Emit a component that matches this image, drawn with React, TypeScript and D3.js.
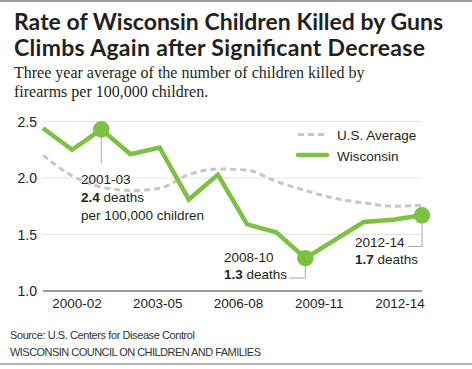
import React, { useEffect, useRef } from 'react';
import * as d3 from 'd3';

const periods = ['1999-01', '2000-02', '2001-03', '2002-04', '2003-05', '2004-06', '2005-07',
  '2006-08', '2007-09', '2008-10', '2009-11', '2010-12', '2011-13', '2012-14'];
const wisconsin = [2.44, 2.25, 2.43, 2.21, 2.27, 1.81, 2.03, 1.59, 1.52, 1.29, 1.45, 1.61, 1.63, 1.67];
const usAverage = [2.2, 2.02, 1.92, 1.89, 1.91, 2.03, 2.08, 2.07, 1.97, 1.89, 1.82, 1.78, 1.75, 1.76];
const xTickLabels = ['2000-02', '2003-05', '2006-08', '2009-11', '2012-14'];
const yTicks = [1.0, 1.5, 2.0, 2.5];

const GREEN = '#7dc143';
const GRAY_DASH = '#c6c6c6';
const FONT = '"Liberation Sans", Arial, sans-serif';

const App: React.FC = () => {
  const svgRef = useRef<SVGSVGElement>(null);

  useEffect(() => {
    if (!svgRef.current) return;
    const width = 472;
    const svg = d3.select(svgRef.current);
    svg.selectAll('*').remove();

    const x = d3.scalePoint<string>().domain(periods).range([43, 422]);
    const y = d3.scaleLinear().domain([1, 2.5]).range([291, 121.5]);
    const xTick = d3.scalePoint<string>().domain(xTickLabels).range([77, 400]);

    // frame lines
    svg.append('line').attr('x1', 0).attr('x2', width).attr('y1', 1).attr('y2', 1)
      .attr('stroke', '#9a9a9a').attr('stroke-width', 2);
    svg.append('line').attr('x1', 0).attr('x2', width).attr('y1', 364).attr('y2', 364)
      .attr('stroke', '#9a9a9a').attr('stroke-width', 1.5);

    // title
    const title = svg.append('text').attr('font-family', 'Lato, sans-serif')
      .attr('font-weight', 700).attr('font-size', 23).attr('fill', '#231f20');
    title.append('tspan').attr('x', 14).attr('y', 30).attr('textLength', 429).text('Rate of Wisconsin Children Killed by Guns');
    title.append('tspan').attr('x', 14).attr('y', 56).attr('textLength', 411).text('Climbs Again after Significant Decrease');

    const sub = svg.append('text').attr('font-family', '"Liberation Serif", "Times New Roman", serif')
      .attr('font-size', 16).attr('fill', '#231f20');
    sub.append('tspan').attr('x', 14).attr('y', 78).text('Three year average of the number of children killed by');
    sub.append('tspan').attr('x', 14).attr('y', 97).text('firearms per 100,000 children.');

    // grid
    const grid = svg.append('g');
    grid.selectAll('line').data(yTicks.filter(d => d > 1)).enter().append('line')
      .attr('x1', x(periods[0])!).attr('x2', x(periods[periods.length - 1])!)
      .attr('y1', d => y(d)).attr('y2', d => y(d))
      .attr('stroke', '#e4e4e4').attr('stroke-width', 1);
    svg.append('line').attr('x1', x(periods[0])!).attr('x2', x(periods[periods.length - 1])!)
      .attr('y1', y(1)).attr('y2', y(1)).attr('stroke', '#9a9a9a').attr('stroke-width', 2);

    // y labels
    svg.append('g').selectAll('text').data(yTicks).enter().append('text')
      .attr('x', 37).attr('y', d => y(d) + 5).attr('text-anchor', 'end')
      .attr('font-family', FONT).attr('font-size', 14).attr('fill', '#231f20')
      .text(d => d3.format('.1f')(d));

    // x labels
    svg.append('g').selectAll('text').data(xTickLabels).enter().append('text')
      .attr('x', d => xTick(d)!).attr('y', 308).attr('text-anchor', 'middle')
      .attr('font-family', FONT).attr('font-size', 13.5).attr('fill', '#231f20')
      .text(d => d);

    // annotation leaders
    const idx = (p: string) => periods.indexOf(p);
    const leader = svg.append('g').attr('fill', 'none').attr('stroke', '#a8a8a8').attr('stroke-width', 1);
    const p1 = '2001-03', p2 = '2008-10', p3 = '2012-14';
    leader.append('path').attr('d', `M${x(p1)},${y(wisconsin[idx(p1)])}V163`);
    leader.append('path').attr('d', `M${x(p2)},${y(wisconsin[idx(p2)])}V278H289`);
    leader.append('path').attr('d', `M${x(p3)},${y(wisconsin[idx(p3)])}V246.5H408`);

    // US average
    const usLine = d3.line<number>().x((_, i) => x(periods[i])!).y(d => y(d)).curve(d3.curveMonotoneX);
    svg.append('path').datum(usAverage).attr('d', usLine).attr('fill', 'none')
      .attr('stroke', GRAY_DASH).attr('stroke-width', 3).attr('stroke-dasharray', '6,4');

    // Wisconsin
    const wiLine = d3.line<number>().x((_, i) => x(periods[i])!).y(d => y(d));
    svg.append('path').datum(wisconsin).attr('d', wiLine).attr('fill', 'none')
      .attr('stroke', GREEN).attr('stroke-width', 4.5).attr('stroke-linejoin', 'miter');

    svg.append('g').selectAll('circle').data([p1, p2, p3]).enter().append('circle')
      .attr('cx', d => x(d)!).attr('cy', d => y(wisconsin[idx(d)])).attr('r', 8.3).attr('fill', GREEN);

    // annotation text
    const ann = svg.append('g').attr('font-family', FONT).attr('font-size', 13.5).attr('fill', '#231f20');
    const addNote = (tx: number, ty: number, period: string, value: number, extra?: string) => {
      const t = ann.append('text');
      t.append('tspan').attr('x', tx).attr('y', ty).text(period);
      const l2 = t.append('tspan').attr('x', tx).attr('y', ty + 17.5);
      l2.append('tspan').attr('font-weight', 700).text(d3.format('.1f')(value));
      l2.append('tspan').text(' deaths');
      if (extra) t.append('tspan').attr('x', tx).attr('y', ty + 36).text(extra);
    };
    addNote(81, 184, p1, wisconsin[idx(p1)], 'per 100,000 children');
    addNote(224, 261.5, p2, wisconsin[idx(p2)]);
    addNote(355, 246.5, p3, wisconsin[idx(p3)]);

    // legend
    const lg = svg.append('g').attr('font-family', FONT).attr('font-size', 13.5).attr('fill', '#231f20');
    lg.append('line').attr('x1', 298).attr('x2', 327).attr('y1', 134.5).attr('y2', 134.5)
      .attr('stroke', GRAY_DASH).attr('stroke-width', 3).attr('stroke-dasharray', '6,4');
    lg.append('text').attr('x', 337).attr('y', 140).text('U.S. Average');
    lg.append('line').attr('x1', 298).attr('x2', 327).attr('y1', 155).attr('y2', 155)
      .attr('stroke', GREEN).attr('stroke-width', 4.5).attr('stroke-linecap', 'round');
    lg.append('text').attr('x', 337).attr('y', 160.5).text('Wisconsin');

    // footer
    const ft = svg.append('g').attr('font-family', FONT).attr('font-size', 11).attr('fill', '#333');
    ft.append('text').attr('x', 10).attr('y', 339).attr('textLength', 185).text('Source: U.S. Centers for Disease Control');
    ft.append('text').attr('x', 10).attr('y', 356).attr('textLength', 251).text('WISCONSIN COUNCIL ON CHILDREN AND FAMILIES');
  }, []);

  return (
    <svg ref={svgRef} width={472} height={369}
      style={{ position: 'absolute', left: 0, top: 0, background: '#fff' }} />
  );
};

export default App;
